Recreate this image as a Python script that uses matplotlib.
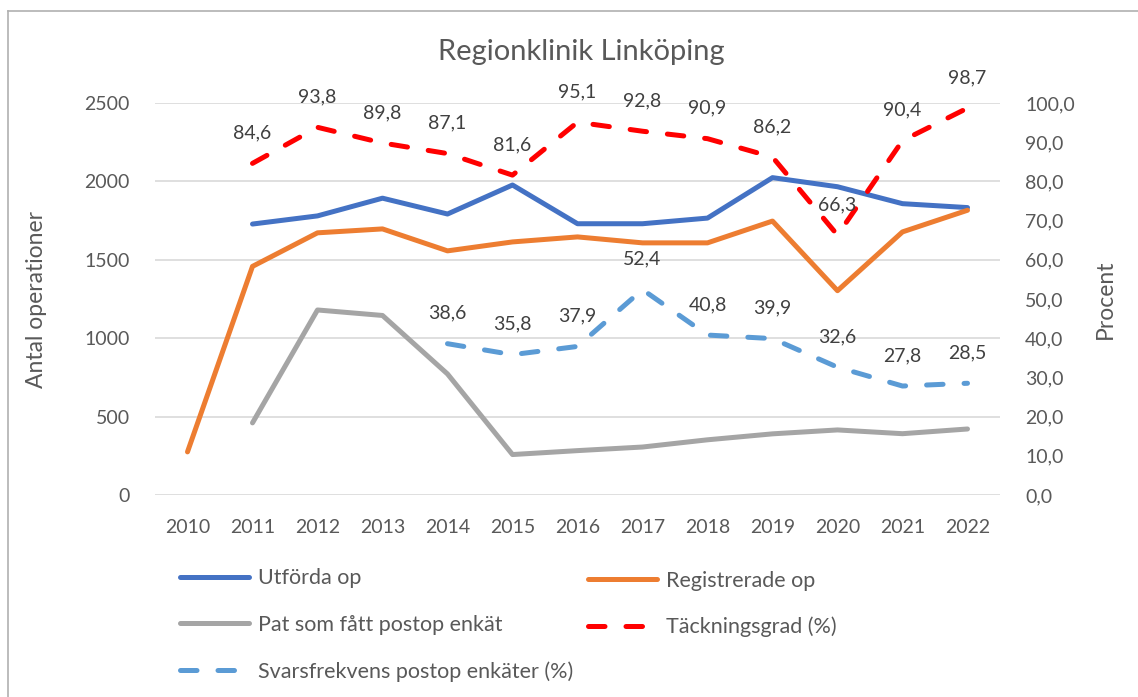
import matplotlib.pyplot as plt
from matplotlib.lines import Line2D

plt.rcParams['font.family'] = ['Lato', 'DejaVu Sans']

# data
years = [str(y) for y in range(2010, 2023)]
utforda = [None, 1728, 1780, 1893, 1792, 1977, 1730, 1730, 1766, 2024, 1966, 1858, 1833]
registrerade = [275, 1458, 1672, 1697, 1557, 1614, 1646, 1608, 1608, 1747, 1303, 1678, 1816]
pat_enkat = [None, 460, 1180, 1145, 772, 258, 283, 306, 352, 390, 415, 391, 421]
tackning = [None, 84.6, 93.8, 89.8, 87.1, 81.6, 95.1, 92.8, 90.9, 86.2, 66.3, 90.4, 98.7]
svarsfrekv = [None, None, None, None, 38.6, 35.8, 37.9, 52.4, 40.8, 39.9, 32.6, 27.8, 28.5]

x = list(range(len(years)))

def pts(vals):
    xs = [i for i, v in zip(x, vals) if v is not None]
    ys = [v for v in vals if v is not None]
    return xs, ys

tick_col = '#595959'
lbl_col = '#404040'
fs = 14

fig = plt.figure(figsize=(11.38, 6.97), dpi=100)
ax = fig.add_axes([155 / 1138, 1 - 495 / 697, 845 / 1138, 392 / 697])
ax2 = ax.twinx()

lw = 3.6
ax.plot(*pts(utforda), color='#4472C4', lw=lw, solid_capstyle='round', solid_joinstyle='round')
ax.plot(*pts(registrerade), color='#ED7D31', lw=lw, solid_capstyle='round', solid_joinstyle='round')
ax.plot(*pts(pat_enkat), color='#A5A5A5', lw=lw, solid_capstyle='round', solid_joinstyle='round')

dash = (3.3, 4.2)
tx, ty = pts(tackning)
ax2.plot(tx, ty, color='#FF0000', lw=lw, dashes=dash, dash_capstyle='round')
sx, sy = pts(svarsfrekv)
ax2.plot(sx, sy, color='#5B9BD5', lw=lw, dashes=dash, dash_capstyle='round')

for xs, ys in [(tx, ty), (sx, sy)]:
    for xi, yi in zip(xs, ys):
        ax2.annotate(f"{yi:.1f}".replace('.', ','), (xi, yi), xytext=(0, 22),
                     textcoords='offset points', ha='center', va='center',
                     fontsize=fs, color=lbl_col)

ax.set_xlim(-0.5, len(years) - 0.5)
ax.set_ylim(0, 2500)
ax.set_yticks(range(0, 2501, 500))
ax2.set_ylim(0, 100)
ax2.set_yticks(range(0, 101, 10))
ax2.set_yticklabels([f"{v},0" for v in range(0, 101, 10)])
ax.set_xticks(x)
ax.set_xticklabels(years)

ax.grid(axis='y', color='#D9D9D9', lw=1.2)
ax.set_axisbelow(True)
for a in (ax, ax2):
    for s in a.spines.values():
        s.set_visible(False)
    a.tick_params(length=0, labelsize=fs, labelcolor=tick_col)
ax.tick_params(axis='y', pad=18)
ax.tick_params(axis='x', pad=17)
ax2.tick_params(axis='y', pad=18)

ax.set_ylabel('Antal operationer', fontsize=16.5, color=tick_col)
ax.yaxis.set_label_coords(-0.128, 0.5)
ax2.set_ylabel('Procent', fontsize=16.5, color=tick_col)
ax2.yaxis.set_label_coords(1.112, 0.5)

fig.text(581 / 1138, 1 - 52 / 697, 'Regionklinik Linköping', ha='center', va='center',
         fontsize=21, color=tick_col)

# legend, two columns
def h(color, dashed=False):
    if dashed:
        return Line2D([], [], color=color, lw=lw, dashes=dash, dash_capstyle='round')
    return Line2D([], [], color=color, lw=lw, solid_capstyle='round')

leg_kw = dict(frameon=False, fontsize=15.5, labelcolor=tick_col, handlelength=3.2,
              handletextpad=0.4, labelspacing=1.22, borderpad=0, borderaxespad=0,
              loc='center left')
leg1 = fig.legend([h('#4472C4'), h('#A5A5A5'), h('#5B9BD5', True)],
                  ['Utförda op', 'Pat som fått postop enkät', 'Svarsfrekvens postop enkäter (%)'],
                  bbox_to_anchor=(180 / 1138, 1 - 625 / 697), **leg_kw)
leg2 = fig.legend([h('#ED7D31'), h('#FF0000', True)],
                  ['Registrerade op', 'Täckningsgrad (%)'],
                  bbox_to_anchor=(588 / 1138, 1 - 604 / 697), **leg_kw)

# chart border (top and left visible in the reference)
fig.add_artist(Line2D([8 / 1138, 1.0], [1 - 11 / 697, 1 - 11 / 697], color='#B0B0B0', lw=1.2))
fig.add_artist(Line2D([8 / 1138, 8 / 1138], [0, 1 - 11 / 697], color='#B0B0B0', lw=1.2))

fig.savefig('out.png', dpi=100)
